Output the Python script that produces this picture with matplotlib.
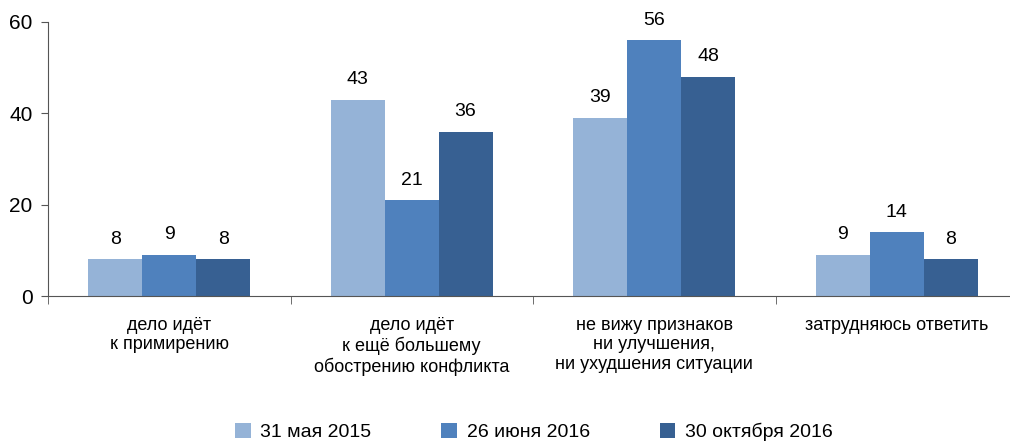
import matplotlib.pyplot as plt
import numpy as np

plt.rcParams['font.family'] = ['Liberation Sans', 'DejaVu Sans']

# данные
categories = ['дело идёт\nк примирению',
              'дело идёт\nк ещё большему\nобострению конфликта',
              'не вижу признаков\nни улучшения,\nни ухудшения ситуации',
              'затрудняюсь ответить']
series_names = ['31 мая 2015', '26 июня 2016', '30 октября 2016']
may_2015 = [8, 43, 39, 9]
jun_2016 = [9, 21, 56, 14]
oct_2016 = [8, 36, 48, 8]
y_ticks = [0, 20, 40, 60]

colors = ['#95B3D7', '#4F81BD', '#376092']

fig = plt.figure(figsize=(10.10, 4.43), dpi=100)
ax = fig.add_axes([48/1010, 147/443, 970/1010, 274/443])

x = np.arange(len(categories))
w = 0.222
for i, (vals, name) in enumerate(zip([may_2015, jun_2016, oct_2016], series_names)):
    bars = ax.bar(x + (i - 1) * w, vals, w, color=colors[i], label=name)
    for b, v in zip(bars, vals):
        ax.text(b.get_x() + b.get_width() / 2, v + 2.5, str(v),
                ha='center', va='bottom', fontsize=14, color='black')

ax.set_xlim(-0.5, 3.5)
ax.set_ylim(0, 60)
ax.set_yticks(y_ticks)
ax.tick_params(axis='y', labelsize=15, length=5, color='#555555', pad=6)

ax.set_xticks(x)
ax.set_xticklabels(categories, fontsize=13, linespacing=1.2, va='top')
ax.tick_params(axis='x', which='major', length=0, pad=15)
ax.set_xticks(np.arange(len(categories)) - 0.5, minor=True)
ax.tick_params(axis='x', which='minor', length=6, color='#555555')

for s in ['top', 'right']:
    ax.spines[s].set_visible(False)
for s in ['left', 'bottom']:
    ax.spines[s].set_color('#555555')

fig.legend(loc='center', bbox_to_anchor=(534/1010, 1 - 432/443), ncol=3,
           frameon=False, fontsize=14, handlelength=0.8, handleheight=0.8,
           handletextpad=0.5, columnspacing=3.6)

fig.savefig('out.png', dpi=100)
